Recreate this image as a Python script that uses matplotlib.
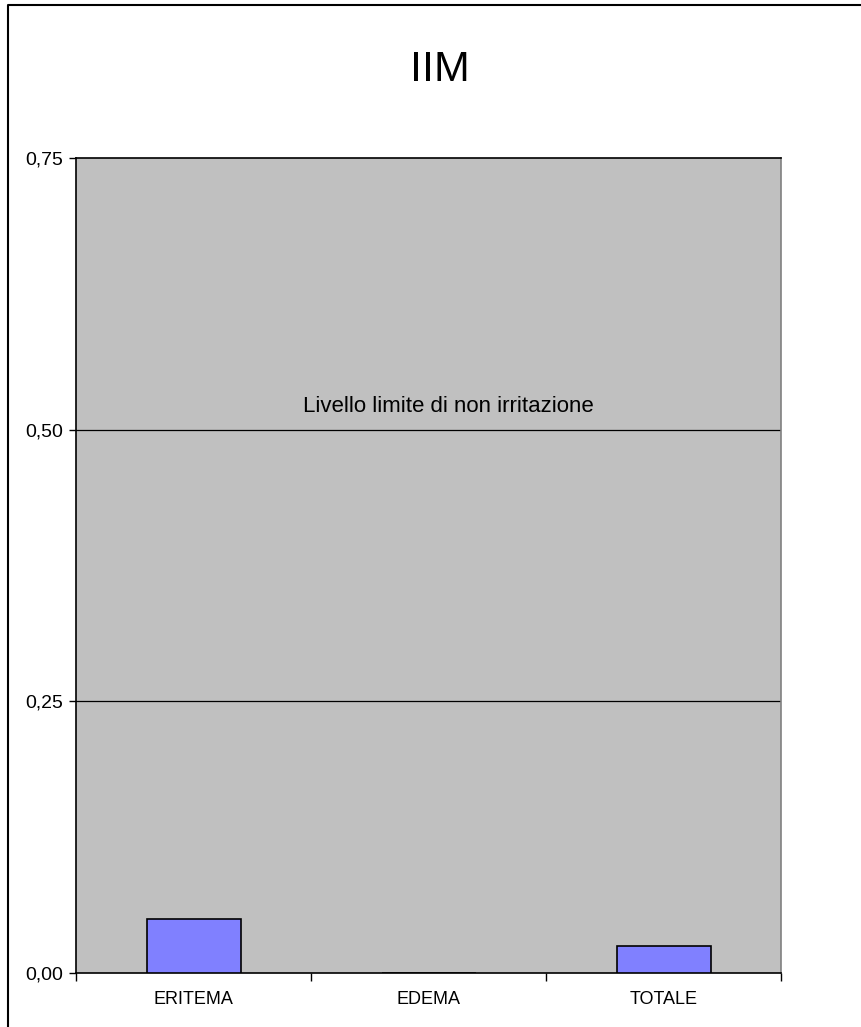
import matplotlib
matplotlib.use("Agg")
import matplotlib.pyplot as plt
from matplotlib.lines import Line2D
from matplotlib.ticker import FuncFormatter

plt.rcParams['font.family'] = ['Liberation Sans', 'DejaVu Sans']

categories = ["ERITEMA", "EDEMA", "TOTALE"]
values = [0.05, 0.0, 0.025]
y_ticks = [0.0, 0.25, 0.5, 0.75]
threshold = 0.5
threshold_label = "Livello limite di non irritazione"
title = "IIM"

W, H = 861, 1027
fig = plt.figure(figsize=(W / 100, H / 100), dpi=100)

# outer frame of the chart
fig.add_artist(Line2D([8 / W, 8 / W, 1.0], [0.0, 1 - 5 / H, 1 - 5 / H],
                      transform=fig.transFigure, color="black", lw=1.5))

left, right, top, bottom = 76, 781, 158, 973
ax = fig.add_axes([left / W, 1 - bottom / H, (right - left) / W, (bottom - top) / H])
ax.set_facecolor("#C0C0C0")

x = list(range(len(categories)))
ax.bar(x, values, width=0.4, color="#8080FF", edgecolor="black", linewidth=1.2, zorder=3)

ax.set_xlim(-0.5, len(categories) - 0.5)
ax.set_ylim(0, 0.75)
ax.set_yticks(y_ticks)
ax.yaxis.set_major_formatter(FuncFormatter(lambda v, _: f"{v:.2f}".replace(".", ",")))
ax.set_xticks(x)
ax.set_xticklabels(categories)
ax.set_xticks([i - 0.5 for i in range(len(categories) + 1)], minor=True)

ax.tick_params(axis="y", direction="out", length=5, width=1, labelsize=14, pad=4)
ax.tick_params(axis="x", which="major", length=0, labelsize=13, pad=13)
ax.tick_params(axis="x", which="minor", direction="out", length=6, width=1)

for y in y_ticks[1:-1]:
    ax.axhline(y, color="black", lw=0.9, zorder=1)

for s in ("left", "bottom", "top"):
    ax.spines[s].set_color("black")
    ax.spines[s].set_linewidth(1.2)
ax.spines["right"].set_color("#808080")
ax.spines["right"].set_linewidth(1.2)

ax.text(1.083, threshold + 0.021, threshold_label, ha="center", va="center", fontsize=16)

fig.text(440 / W, 1 - 70 / H, title, ha="center", va="center", fontsize=31)

fig.savefig("out.png", dpi=100)
